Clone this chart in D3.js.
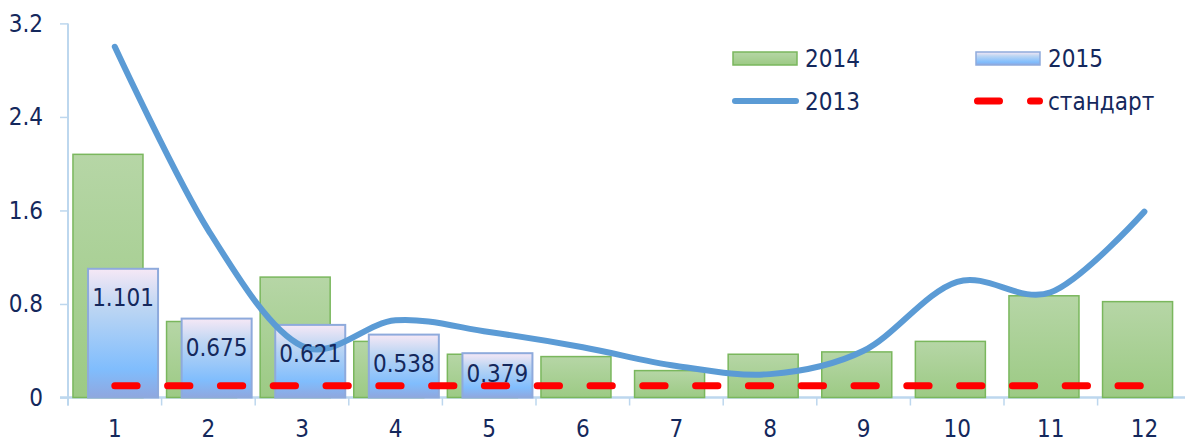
<!DOCTYPE html>
<html>
<head>
<meta charset="utf-8">
<script src="https://cdn.jsdelivr.net/npm/d3@7/dist/d3.min.js"></script>
<style>
  html, body { margin: 0; padding: 0; background: #fff; }
  svg { display: block; }
  text { font-family: "DejaVu Sans", sans-serif; font-stretch: condensed; fill: #14285c; }
</style>
</head>
<body>
<svg id="chart" width="1185" height="443"></svg>
<script>
const categories = ["1","2","3","4","5","6","7","8","9","10","11","12"];
const values2014 = [2.08, 0.65, 1.03, 0.48, 0.37, 0.35, 0.23, 0.37, 0.39, 0.48, 0.87, 0.82];
const values2015 = [1.101, 0.675, 0.621, 0.538, 0.379];
const values2013 = [3.0, 1.43, 0.44, 0.66, 0.56, 0.43, 0.27, 0.20, 0.40, 0.99, 0.90, 1.59];
const valuesStandard = [0.1, 0.1, 0.1, 0.1, 0.1, 0.1, 0.1, 0.1, 0.1, 0.1, 0.1, 0.1];
const yTickValues = [0, 0.8, 1.6, 2.4, 3.2];
const legendItems = [
  { name: "2014", kind: "bar14" },
  { name: "2015", kind: "bar15" },
  { name: "2013", kind: "line" },
  { name: "стандарт", kind: "dash" }
];

const svg = d3.select("#chart");
const axisColor = "#bdd7ee";
const fontSize = 24;

const x = d3.scaleBand().domain(categories).range([68, 68 + 12 * 93.6]).padding(0);
const y = d3.scaleLinear().domain([0, 3.2]).range([397.5, 23.4]);
const bw = x.bandwidth();
const barW = bw * 0.748;
const off14 = bw * 0.053;
const off15 = bw * 0.214;

const defs = svg.append("defs");
const g14 = defs.append("linearGradient").attr("id", "g14").attr("x1", 0).attr("y1", 0).attr("x2", 0).attr("y2", 1);
g14.append("stop").attr("offset", "0%").attr("stop-color", "#b6d6a6");
g14.append("stop").attr("offset", "100%").attr("stop-color", "#9cca84");
const g15 = defs.append("linearGradient").attr("id", "g15").attr("x1", 0).attr("y1", 0).attr("x2", 0).attr("y2", 1);
g15.append("stop").attr("offset", "0%").attr("stop-color", "#f6e8f6");
g15.append("stop").attr("offset", "30%").attr("stop-color", "#bdd6f3");
g15.append("stop").attr("offset", "78%").attr("stop-color", "#80bdfd");
g15.append("stop").attr("offset", "100%").attr("stop-color", "#8fa7df");

// Y axis
const yAxis = d3.axisLeft(y).tickValues(yTickValues).tickSize(8).tickPadding(17)
  .tickFormat(d => d === 0 ? "0" : d3.format(".1f")(d));
const yg = svg.append("g").attr("transform", "translate(68,0)").call(yAxis);
yg.select(".domain").attr("stroke", axisColor).attr("stroke-width", 2).attr("d", `M0,${y(3.2)}V${y(0) + 8}`);
yg.selectAll(".tick line").attr("stroke", axisColor).attr("stroke-width", 1.5);
yg.selectAll(".tick text").attr("font-size", fontSize).attr("font-family", null).style("fill", "#14285c");

// X axis
const xAxis = d3.axisBottom(x).tickSize(0).tickPadding(22);
const xg = svg.append("g").attr("transform", `translate(0,${y(0)})`).call(xAxis);
xg.select(".domain").attr("stroke", axisColor).attr("stroke-width", 2.5).attr("d", `M60,0H1185`);
xg.selectAll(".tick text").attr("font-size", fontSize).attr("font-family", null).style("fill", "#14285c");
xg.selectAll(".boundary").data(categories).enter().append("line")
  .attr("class", "boundary")
  .attr("x1", d => x(d)).attr("x2", d => x(d))
  .attr("y1", 0).attr("y2", 8)
  .attr("stroke", axisColor).attr("stroke-width", 1.5);

// 2014 bars
svg.append("g").selectAll("rect").data(values2014).enter().append("rect")
  .attr("x", (d, i) => x(categories[i]) + off14)
  .attr("y", d => y(d))
  .attr("width", barW)
  .attr("height", d => y(0) - y(d))
  .attr("fill", "url(#g14)")
  .attr("stroke", "#7ab75d").attr("stroke-width", 1.5);

// 2015 bars
svg.append("g").selectAll("rect").data(values2015).enter().append("rect")
  .attr("x", (d, i) => x(categories[i]) + off15)
  .attr("y", d => y(d))
  .attr("width", barW)
  .attr("height", d => y(0) - y(d))
  .attr("fill", "url(#g15)")
  .attr("stroke", "#8eaadc").attr("stroke-width", 2);

// 2013 line
const line = d3.line()
  .x((d, i) => x(categories[i]) + bw / 2)
  .y(d => y(d))
  .curve(d3.curveCatmullRom.alpha(0));
svg.append("path").datum(values2013)
  .attr("d", line)
  .attr("fill", "none").attr("stroke", "#5b9bd5").attr("stroke-width", 6)
  .attr("stroke-linecap", "round").attr("stroke-linejoin", "round");

// data labels 2015
svg.append("g").selectAll("text").data(values2015).enter().append("text")
  .attr("x", (d, i) => x(categories[i]) + off15 + barW / 2)
  .attr("y", d => Math.min(y(d) + 37, y(0) - 16))
  .attr("text-anchor", "middle")
  .attr("font-size", fontSize)
  .text(d => d3.format(".3f")(d));

// standard line
const stdLine = d3.line()
  .x((d, i) => x(categories[i]) + bw / 2)
  .y(d => y(d));
svg.append("path").datum(valuesStandard)
  .attr("d", stdLine)
  .attr("fill", "none").attr("stroke", "#ff0000").attr("stroke-width", 7)
  .attr("stroke-linecap", "round").attr("stroke-dasharray", "22.3 30.5");

// legend
const legPos = [[733, 52], [976, 52], [733, 95], [976, 95]];
const lg = svg.append("g");
legendItems.forEach((it, i) => {
  const [lx, ly] = legPos[i];
  if (it.kind === "bar14" || it.kind === "bar15") {
    lg.append("rect").attr("x", lx).attr("y", ly).attr("width", 64).attr("height", 13)
      .attr("fill", it.kind === "bar14" ? "url(#g14)" : "url(#g15)")
      .attr("stroke", it.kind === "bar14" ? "#7ab75d" : "#8eaadc").attr("stroke-width", 1.5);
    lg.append("text").attr("x", lx + 72).attr("y", ly + 15).attr("font-size", fontSize).text(it.name);
  } else if (it.kind === "line") {
    lg.append("line").attr("x1", lx + 2).attr("x2", lx + 63).attr("y1", ly + 6).attr("y2", ly + 6)
      .attr("stroke", "#5b9bd5").attr("stroke-width", 6).attr("stroke-linecap", "round");
    lg.append("text").attr("x", lx + 72).attr("y", ly + 15).attr("font-size", fontSize).text(it.name);
  } else {
    lg.append("line").attr("x1", lx + 1.5).attr("x2", lx + 63.5).attr("y1", ly + 6).attr("y2", ly + 6)
      .attr("stroke", "#ff0000").attr("stroke-width", 7).attr("stroke-linecap", "round")
      .attr("stroke-dasharray", "22 31");
    lg.append("text").attr("x", lx + 72).attr("y", ly + 15).attr("font-size", fontSize).text(it.name);
  }
});
</script>
</body>
</html>
